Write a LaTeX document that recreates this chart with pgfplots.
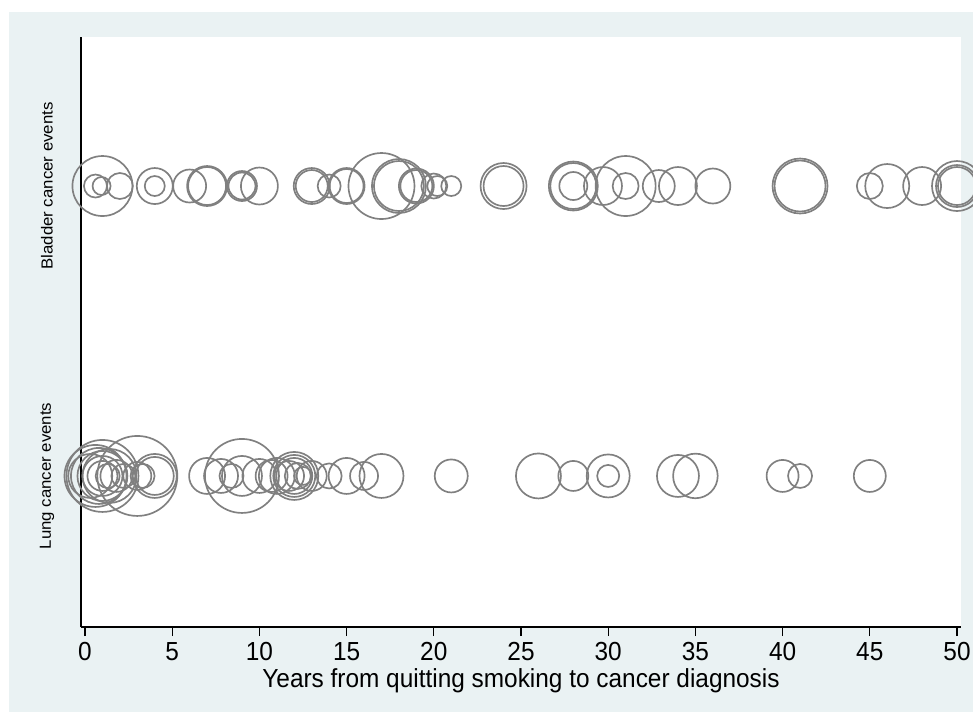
\documentclass[border=0pt]{standalone}
\usepackage{pgfplots}
\pgfplotsset{compat=1.18}
\usepackage{pgfplotstable}
\usepackage{fontspec}
\setmainfont{Liberation Sans}
\definecolor{bgc}{RGB}{234,242,243}
\definecolor{bub}{RGB}{128,128,128}

% bladder cancer events: x = years, r = bubble radius (px)
\pgfplotstableread{
x y r
0.6 2 11.5
0.95 2 9
1 2 30
2 2 13
4 2 18
4 2 10
6 2 16.5
7 2 20
7 2 19
9 2 15
9 2 13.5
10 2 18.5
13 2 18
13 2 16
14 2 11.5
15 2 18
15 2 17
17 2 33
18 2 27
18 2 25
19 2 17.5
19 2 16
20 2 12.5
20.2 2 10
21 2 10
24 2 23
24 2 20
28 2 24.5
28 2 23
28 2 14
29.7 2 19
31 2 30
31 2 13
32.9 2 16
34 2 19
36 2 17.5
41 2 27.5
41 2 25.5
45 2 13
46 2 22
48 2 19
50 2 25
50 2 21
50 2 19
}\bladder

% lung cancer events
\pgfplotstableread{
x y r
0.3 1 22
0.6 1 31
0.8 1 28
1 1 36
1 1 25
1 1 20
1 1 15
1.3 1 12
1.4 1 27
1.8 1 16
2.2 1 12
3 1 40
3 1 14
3.3 1 12
4 1 22
4 1 19
7 1 18
7.8 1 17
8.4 1 12
9 1 37
9 1 20
10 1 17
10.7 1 16
11 1 18
11.7 1 15
12 1 24
12 1 21
12 1 18
12.2 1 13
12.5 1 9
13 1 15
14 1 12.5
15 1 18
16 1 14
17 1 22
21 1 16.5
26 1 22.5
28 1 15
30 1 21.5
30 1 11
34 1 21
35 1 22.3
40 1 16
41 1 12
45 1 16
}\lung

\begin{document}
\begin{tikzpicture}
\useasboundingbox (0,0) rectangle (729.75pt,534.75pt);
\fill[bgc] (6.75pt,0.75pt) rectangle (729.75pt,525.75pt);
\begin{axis}[
  at={(60.75pt,64.5pt)}, anchor=south west,
  scale only axis, width=660pt, height=442.5pt,
  xmin=-0.23, xmax=50.23, ymin=0.479, ymax=2.514,
  axis background/.style={fill=white},
  axis x line*=bottom, axis y line*=left,
  axis line style={black, line width=0.8pt},
  xtick={0,5,...,50},
  ytick={1,2}, yticklabels={Lung cancer events, Bladder cancer events},
  tick align=outside, major tick length=6.75pt,
  xtick style={black, line width=0.8pt},
  ytick style={draw=none},
  /pgf/number format/assume math mode=true,
  xticklabel style={font=\fontsize{18.3}{20}\selectfont, anchor=base, yshift=-18pt, yscale=1.07},
  yticklabel style={font=\fontsize{12}{14}\selectfont, anchor=center, xshift=-18.75pt, rotate=90, xscale=1.05},
  xlabel={Years from quitting smoking to cancer diagnosis},
  xlabel style={font=\fontsize{18.3}{20}\selectfont, at={(axis description cs:0.5,0)}, anchor=base, yshift=-45pt, yscale=1.07},
  clip=false,
]
\addplot[scatter, only marks, mark=o, line width=1.25pt,
  scatter/use mapped color={draw=bub},
  visualization depends on={0.75*\thisrow{r} \as \rad},
  scatter/@pre marker code/.append style={/tikz/mark size=\rad pt}]
  table[x=x, y=y] {\bladder};
\addplot[scatter, only marks, mark=o, line width=1.25pt,
  scatter/use mapped color={draw=bub},
  visualization depends on={0.75*\thisrow{r} \as \rad},
  scatter/@pre marker code/.append style={/tikz/mark size=\rad pt}]
  table[x=x, y=y] {\lung};
\end{axis}
\end{tikzpicture}
\end{document}
